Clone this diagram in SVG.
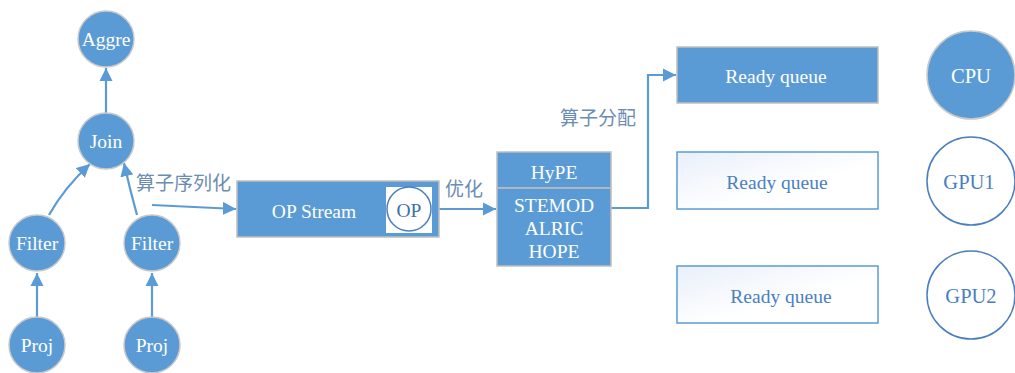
<svg xmlns="http://www.w3.org/2000/svg" width="1015" height="373" viewBox="0 0 1015 373">
<style>
.n{fill:#5b9bd5;stroke:#c9c9c9;stroke-width:1.5}
.t{font-family:"Liberation Serif","Times New Roman",serif;font-size:19.5px;fill:#ffffff;text-anchor:middle;dominant-baseline:central}
.b{fill:#5b9bd5;stroke:#bfbfbf;stroke-width:1.5}
.w{fill:url(#g);stroke:#5b9bd5;stroke-width:1.5}
.wt{font-family:"Liberation Serif","Times New Roman",serif;font-size:19.5px;fill:#4a7fbf;text-anchor:middle;dominant-baseline:central}
.oc{fill:#ffffff;stroke:#4a7fbf;stroke-width:1.5}
.zh{font-family:"Noto Sans CJK SC","Noto Sans",sans-serif;font-size:19px;fill:#6b8db3}
.c{fill:none;stroke:#5b9bd5;stroke-width:2.2}
</style>
<defs>
<linearGradient id="g" x1="0" y1="0" x2="1" y2="1">
<stop offset="0" stop-color="#e9f0fa"/>
<stop offset="0.6" stop-color="#ffffff"/>
</linearGradient>
<marker id="a" viewBox="0 0 10 10" refX="10" refY="5" markerWidth="6" markerHeight="6" markerUnits="strokeWidth" orient="auto">
<path d="M0,0 L10,5 L0,10 Z" fill="#5b9bd5"/>
</marker>
</defs>
<rect width="1015" height="373" fill="#ffffff"/>
<g id="connectors">
<path class="c" d="M106,113 L106,68" marker-end="url(#a)"/>
<path class="c" d="M49,215 Q64,188 90,164" marker-end="url(#a)"/>
<path class="c" d="M137,215 Q130,190 124,163" marker-end="url(#a)"/>
<path class="c" d="M37,317 L37,273" marker-end="url(#a)"/>
<path class="c" d="M152,317 L152,273" marker-end="url(#a)"/>
<path class="c" d="M152,205 L236,209" marker-end="url(#a)"/>
<path class="c" d="M439,209 L496,209" marker-end="url(#a)"/>
<path class="c" d="M611,208 L648,208 L648,75 L676,75" marker-end="url(#a)"/>
<text class="zh" x="136" y="190">算子序列化</text>
<text class="zh" x="445" y="196">优化</text>
<text class="zh" x="560" y="125">算子分配</text>
</g>
<g id="aggre"><circle class="n" cx="106" cy="39" r="28"/><text class="t" x="106" y="39">Aggre</text></g>
<g id="join"><circle class="n" cx="106" cy="141" r="28"/><text class="t" x="106" y="141">Join</text></g>
<g id="filter1"><circle class="n" cx="37" cy="243" r="28"/><text class="t" x="37" y="243">Filter</text></g>
<g id="filter2"><circle class="n" cx="152" cy="243" r="28"/><text class="t" x="152" y="243">Filter</text></g>
<g id="proj1"><circle class="n" cx="37" cy="345" r="28"/><text class="t" x="37" y="345">Proj</text></g>
<g id="proj2"><circle class="n" cx="152" cy="345" r="28"/><text class="t" x="152" y="345">Proj</text></g>
<g id="opstream">
<rect class="b" x="237" y="181" width="202" height="56"/>
<text class="t" x="314" y="211">OP Stream</text>
<rect x="386" y="187" width="46" height="46" fill="#ffffff"/>
<circle class="oc" cx="409" cy="209" r="22"/>
<text class="t" x="409" y="210" style="fill:#3d6fa8">OP</text>
</g>
<g id="hype">
<rect class="b" x="497" y="152" width="114" height="36"/>
<text class="t" x="554" y="172">HyPE</text>
<rect class="b" x="497" y="188" width="114" height="78"/>
<text class="t" x="554" y="205">STEMOD</text>
<text class="t" x="554" y="228">ALRIC</text>
<text class="t" x="554" y="251">HOPE</text>
</g>
<g id="queue1"><rect class="b" x="677" y="47" width="201" height="56"/><text class="t" x="776" y="76">Ready queue</text></g>
<g id="queue2"><rect class="w" x="677" y="152" width="201" height="57"/><text class="wt" x="777" y="182">Ready queue</text></g>
<g id="queue3"><rect class="w" x="677" y="266" width="201" height="57"/><text class="wt" x="781" y="296">Ready queue</text></g>
<g id="cpu"><circle class="n" cx="971" cy="75" r="44"/><text class="t" x="971" y="76" style="font-size:20.5px">CPU</text></g>
<g id="gpu1"><circle class="oc" cx="971" cy="181" r="44"/><text class="wt" x="969" y="182" style="font-size:20.5px">GPU1</text></g>
<g id="gpu2"><circle class="oc" cx="971" cy="295" r="44"/><text class="wt" x="971" y="296" style="font-size:20.5px">GPU2</text></g>
</svg>
